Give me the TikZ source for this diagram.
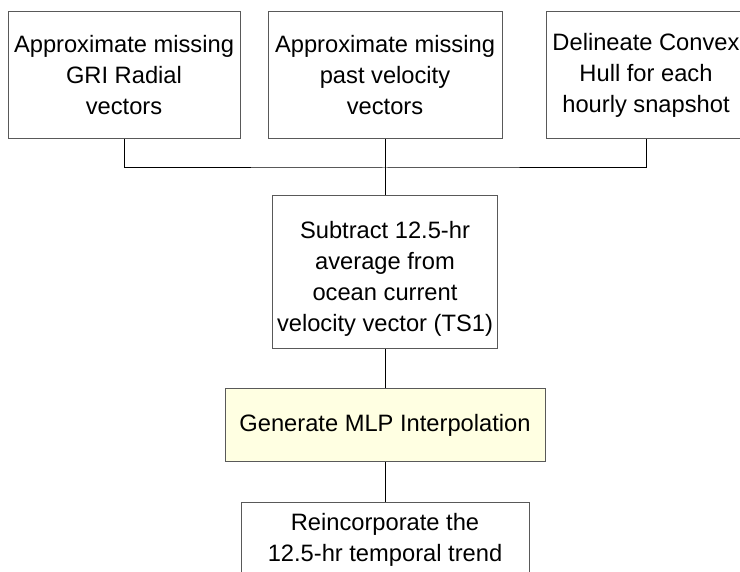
\documentclass[tikz,border=0pt]{standalone}
\usepackage{fontspec}
\setmainfont{Liberation Sans}
\usepackage{tikz}
\usepackage{xcolor}
\usetikzlibrary{calc}
\definecolor{mlpyellow}{RGB}{255,255,226}

\begin{document}
\begin{tikzpicture}[x=1pt,y=-1pt,
box/.style={draw=black!65, line width=1pt, fill=white, align=center, inner sep=2pt, font=\fontsize{23.7}{31}\selectfont},
mlp/.style={box, fill=mlpyellow}]
	\useasboundingbox (0,0) rectangle (740,572);
	\node[box, minimum width=232pt, minimum height=127pt] at (124,75) (gri) {Approximate missing\\GRI Radial\\vectors};
	\node[box, minimum width=234pt, minimum height=127pt] at (385,75) (past) {Approximate missing\\past velocity\\vectors};
	\node[box, minimum width=200pt, minimum height=127pt] at (646,75) (hull) {Delineate Convex\\Hull for each\\hourly snapshot};
	\node[box, minimum width=225pt, minimum height=153pt] at (385,272) (sub) {\rule{0pt}{31pt}Subtract 12.5-hr\\average from\\ocean current\\velocity vector (TS1)};
	\node[mlp, minimum width=320pt, minimum height=73pt] at (385,425) (mlp) {Generate MLP Interpolation};
	\node[box, minimum width=288pt, minimum height=76pt] at (385,540) (trend) {Reincorporate the\\12.5-hr temporal trend};
	\coordinate (bus) at (385,168);
	\draw[line width=1pt] (gri.south) |- (bus) -| (hull.south);
	\draw[line width=1pt] (past.south) -- (sub.north);
	\draw[line width=1pt] (sub.south) -- (mlp.north);
	\draw[line width=1pt] (mlp.south) -- (trend.north);
\end{tikzpicture}
\end{document}
